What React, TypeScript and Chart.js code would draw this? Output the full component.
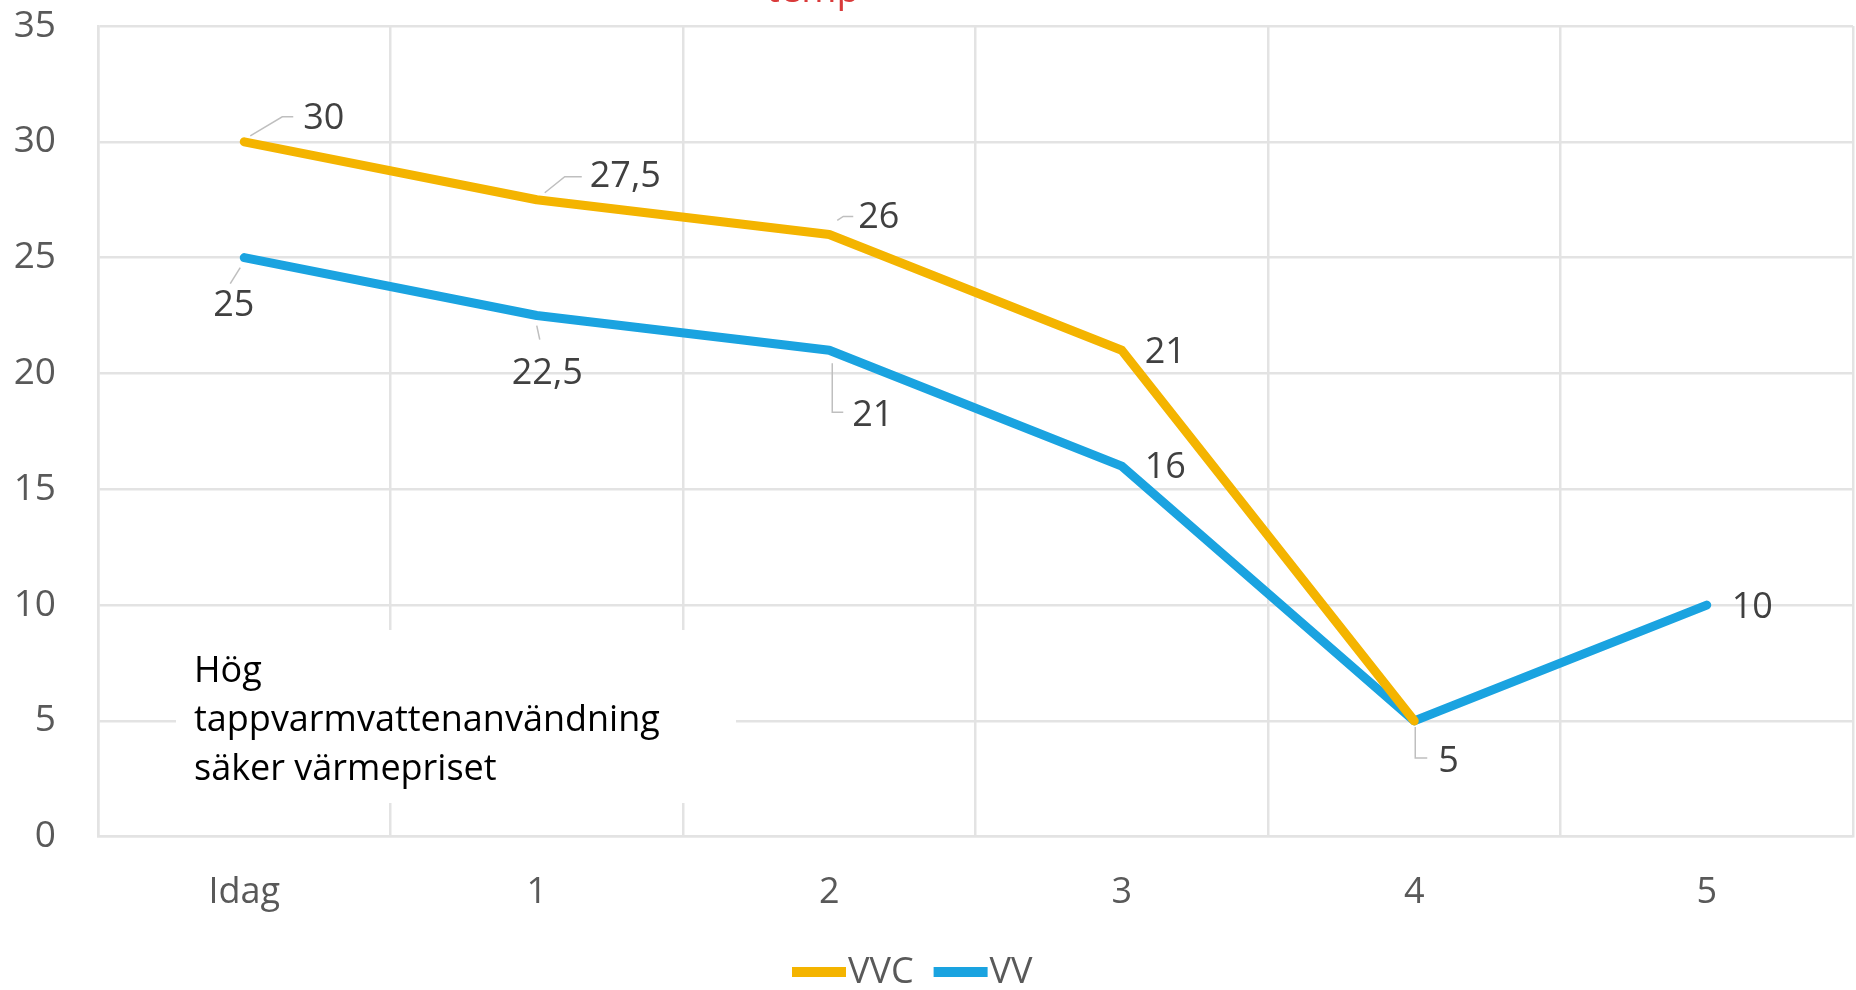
import React, { useEffect, useRef } from "react";
import { Chart, registerables } from "chart.js";

Chart.register(...registerables);

// Category labels along the x axis
const categories = ["Idag", "1", "2", "3", "4", "5"];

// Series values
const vvcValues: (number | null)[] = [30, 27.5, 26, 21, 5, null];
const vvValues: (number | null)[] = [25, 22.5, 21, 16, 5, 10];

const seriesNames = ["VVC", "VV"];
const seriesColors = ["#F4B400", "#1AA3E0"];

const titleText = "temp";
const noteLines = ["Hög", "tappvarmvattenanvändning", "säker värmepriset"];

// Value label placement per point: [dx, dy] from the point to the label's left-middle,
// plus an optional leader line (relative points). null = no label.
type LabelPlacement = { dx: number; dy: number; leader?: [number, number][] } | null;
const vvcLabelPlacement: LabelPlacement[] = [
  { dx: 59, dy: -23, leader: [[6, -6], [38, -25], [49, -25]] },
  { dx: 53, dy: -23, leader: [[8, -7], [28, -23], [45, -23]] },
  { dx: 29, dy: -17, leader: [[8, -14], [14, -18], [24, -18]] },
  { dx: 23, dy: 2 },
  null,
  null,
];
const vvLabelPlacement: LabelPlacement[] = [
  { dx: -31, dy: 48, leader: [[-4, 10], [-14, 26]] },
  { dx: -25, dy: 58, leader: [[0, 10], [3, 24]] },
  { dx: 23, dy: 65, leader: [[3, 13], [3, 62], [14, 62]] },
  { dx: 23, dy: 2 },
  { dx: 24, dy: 41, leader: [[1, 6], [1, 37], [13, 37]] },
  { dx: 25, dy: 3 },
];

const FONT = "'Open Sans', 'DejaVu Sans', sans-serif";
const GRID = "#E3E3E3";
const TICK_COLOR = "#595959";
const LABEL_COLOR = "#404040";

const formatValue = (v: number) => String(v).replace(".", ",");

const decorations = {
  id: "decorations",
  beforeDatasetsDraw(chart: Chart) {
    const ctx = chart.ctx;
    // white note box over the grid
    ctx.save();
    ctx.fillStyle = "#FFFFFF";
    ctx.fillRect(176, 630, 560, 173);
    ctx.fillStyle = "#000000";
    ctx.font = `36px ${FONT}`;
    ctx.textBaseline = "alphabetic";
    ctx.textAlign = "left";
    noteLines.forEach((line, i) => ctx.fillText(line, 194, 682 + i * 49));
    ctx.restore();
  },
  afterDatasetsDraw(chart: Chart) {
    const ctx = chart.ctx;
    const placements = [vvcLabelPlacement, vvLabelPlacement];
    ctx.save();
    chart.data.datasets.forEach((ds, di) => {
      const meta = chart.getDatasetMeta(di);
      meta.data.forEach((pt: any, i: number) => {
        const v = ds.data[i] as number | null;
        const p = placements[di][i];
        if (v == null || !p) return;
        const x = pt.x;
        const y = pt.y;
        if (p.leader) {
          ctx.strokeStyle = "#BFBFBF";
          ctx.lineWidth = 1.5;
          ctx.beginPath();
          p.leader.forEach(([lx, ly], k) => {
            if (k === 0) ctx.moveTo(x + lx, y + ly);
            else ctx.lineTo(x + lx, y + ly);
          });
          ctx.stroke();
        }
        ctx.fillStyle = LABEL_COLOR;
        ctx.font = `36px ${FONT}`;
        ctx.textAlign = "left";
        ctx.textBaseline = "middle";
        ctx.fillText(formatValue(v), x + p.dx, y + p.dy);
      });
    });
    ctx.restore();
  },
  afterDraw(chart: Chart) {
    const ctx = chart.ctx;
    ctx.save();
    // title, partly above the canvas edge
    ctx.fillStyle = "#D93A3A";
    ctx.font = `38px ${FONT}`;
    ctx.textAlign = "center";
    ctx.textBaseline = "alphabetic";
    ctx.fillText(titleText, 813, 2);

    // legend
    ctx.font = `36px ${FONT}`;
    ctx.textBaseline = "middle";
    ctx.textAlign = "left";
    let x = 792;
    const y = 972;
    chart.data.datasets.forEach((ds) => {
      ctx.fillStyle = ds.borderColor as string;
      ctx.fillRect(x, y - 5, 54, 10);
      x += 56;
      ctx.fillStyle = TICK_COLOR;
      const label = ds.label as string;
      ctx.fillText(label, x, y + 1);
      x += ctx.measureText(label).width + 20;
    });
    ctx.restore();
  },
};

export default function App() {
  const canvasRef = useRef<HTMLCanvasElement | null>(null);

  useEffect(() => {
    if (!canvasRef.current) return;
    const chart = new Chart(canvasRef.current, {
      type: "line",
      data: {
        labels: categories,
        datasets: [
          {
            label: seriesNames[0],
            data: vvcValues,
            borderColor: seriesColors[0],
            backgroundColor: seriesColors[0],
            borderWidth: 9,
            borderJoinStyle: "round",
            borderCapStyle: "round",
            pointRadius: 0,
            tension: 0,
          },
          {
            label: seriesNames[1],
            data: vvValues,
            borderColor: seriesColors[1],
            backgroundColor: seriesColors[1],
            borderWidth: 9,
            borderJoinStyle: "round",
            borderCapStyle: "round",
            pointRadius: 0,
            tension: 0,
          },
        ],
      },
      options: {
        responsive: false,
        animation: false,
        layout: { padding: { top: 26, right: 3, left: 0, bottom: 0 } },
        plugins: {
          legend: { display: false },
          title: { display: false },
          tooltip: { enabled: false },
        },
        scales: {
          x: {
            offset: true,
            grid: { offset: true, color: GRID, lineWidth: 2.5, drawTicks: false },
            border: { color: GRID, width: 2.5 },
            ticks: {
              padding: 34,
              color: TICK_COLOR,
              font: { family: FONT, size: 36 },
              maxRotation: 0,
            },
            afterFit: (scale: any) => {
              scale.height = 153.3;
            },
          },
          y: {
            min: 0,
            max: 35,
            grid: { color: GRID, lineWidth: 2.5, drawTicks: false },
            border: { color: GRID, width: 2.5 },
            ticks: {
              stepSize: 5,
              padding: 42,
              color: TICK_COLOR,
              font: { family: FONT, size: 37 },
            },
            afterFit: (scale: any) => {
              scale.width = 98;
              scale.paddingTop = 0;
              scale.paddingBottom = 0;
            },
          },
        },
      },
      plugins: [decorations],
    });
    return () => chart.destroy();
  }, []);

  return (
    <div style={{ position: "absolute", left: 0, top: 0, width: 1856, height: 990, background: "#fff" }}>
      <canvas ref={canvasRef} width={1856} height={990} style={{ display: "block" }} />
    </div>
  );
}
